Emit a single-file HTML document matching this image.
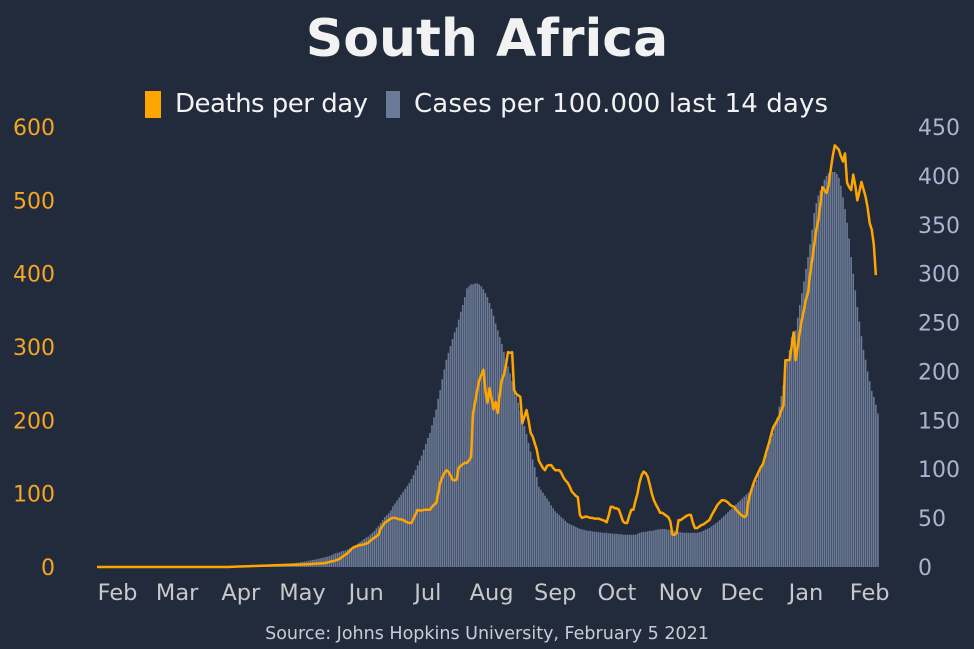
<!DOCTYPE html>
<html><head><meta charset="utf-8"><style>
html,body{margin:0;padding:0;background:#222b3c;}
svg{display:block;font-family:"Liberation Sans","DejaVu Sans",sans-serif;}
</style></head><body>
<svg id="chart" width="974" height="649" viewBox="0 0 974 649" xmlns="http://www.w3.org/2000/svg">
<rect width="974" height="649" fill="#222b3c"/>
<text x="487" y="56" text-anchor="middle" font-size="52" font-weight="bold" fill="#f2f2f2" font-family="DejaVu Sans, sans-serif">South Africa</text>
<g>
<rect x="145" y="91" width="16" height="27" fill="#ffa500"/>
<text x="175" y="112" font-size="26" fill="#f2f2f2" font-family="DejaVu Sans, sans-serif" textLength="193">Deaths per day</text>
<rect x="386" y="91" width="14" height="27" fill="#6b7a96"/>
<text x="414" y="112" font-size="26" fill="#f2f2f2" font-family="DejaVu Sans, sans-serif" textLength="414">Cases per 100.000 last 14 days</text>
</g>
<g id="bars"></g>
<path id="line" fill="none" stroke="#ffa500" stroke-width="2.5" stroke-linejoin="round"/>
<g id="axes"></g>
<text x="487" y="639" text-anchor="middle" font-size="17.5" fill="#c8ccd4" font-family="DejaVu Sans, sans-serif">Source: Johns Hopkins University, February 5 2021</text>
</svg>
<script>
const monthLabels=["Feb","Mar","Apr","May","Jun","Jul","Aug","Sep","Oct","Nov","Dec","Jan","Feb"];
const monthDayIndex=[10,39,70,100,131,161,192,223,253,284,314,345,376];
const leftTicks=[0,100,200,300,400,500,600];
const rightTicks=[0,50,100,150,200,250,300,350,400,450];
const cases=[].concat(
Array(70).fill(0),
[0.5,0.6,0.7,0.8,0.9,1,1,1.1,1.2,1.3],
[1.4,1.5,1.6,1.7,1.8,1.9,2,2.1,2.2,2.4],
[2.6,2.8,3,3.2,3.5,3.8,4,4.3,4.6,5],
[5.3,5.6,6,6.4,6.8,7.2,7.6,8,8.5,9],
[9.5,10,10.5,11,12,13,14,14.5,15,16],
[16.5,17,18,19,20,21,22.5,24,25.5,27],
[28.5,30,31,33,35,37,39.5,42,45,48],
[51,53,55,58,62,65,68,71,74,77],
[80,83,86,90,94,99,104,109,114,120],
[126,132,137,145,153,161,172,181,192,202],
[212,219,226,233,240,245,253,261,268,276],
[285,287,289,289,290,290,289,287,284,280],
[276,270,264,257,249,242,235,228,220,213],
[205,198,190,182,175,168,160,152,144,136],
[127,118,110,102,92,82,79,76,73,70],
[67,63,60,57,55,53,51,49,47,45],
[44,43,42,41,40,39,38.5,38,37.5,37],
[37,36.5,36,36,35.5,35.5,35,35,35,34.5],
[34.5,34,34,34,33.5,33.5,33,33,33,33],
[33,33,33,34,35,35.5,36,36,36.5,37],
[37,37.5,38,38.5,38.5,39,39,38.5,38,38],
[37.5,37,36.5,36,35.5,35,35,35,35,35],
[35,35,35,35.5,36,37,38,39,40,41.5],
[43,44.5,46,48,50,52,54,56,58,60],
[62,64,66,68,70,72,74,76,78,80],
[84,89,95,100,106,112,118,124,131,137],
[145,153,164,175,186,198,210,222,235,238],
[242,255,268,280,292,305,317,330,345,362],
[372,380,385,389,396,400,403,403,404,404],
[402,398,390,378,366,352,336,317,300,283],
[266,251,236,222,212,200,190,180,174,166,157]);
const deaths=[].concat(
Array(65).fill(0),
[0.2,0.3,0.4,0.5,0.6],
[0.7,0.8,0.9,1,1.1,1.2,1.3,1.4,1.5,1.6],
[1.7,1.8,1.9,2,2.1,2.2,2.3,2.4,2.5,2.6],
[2.7,2.8,2.9,3,3,3.1,3.1,3.2,3.2,3.3],
[3.4,3.5,3.6,3.8,4,4.2,4.4,4.6,4.8,5],
[5,5.5,6,7,7.5,8,9,10,11,13],
[15,17,19,22,25,27,28,29,30,30],
[31,32,33,36,38,40,42,44,52,56],
[60,62,64,66,67,67,66,65,65,64],
[62,61,60,60,66,72,78,77,77,78],
[78,78,78,82,85,87,100,115,122,128],
[132,130,125,119,118,119,135,138,140,142],
[142,145,150,210,225,241,255,262,269,240],
[224,244,230,215,225,210,235,255,262,275],
[293,292,293,241,236,234,232,196,205,214],
[200,183,178,169,160,145,140,135,132,138],
[139,139,135,132,132,132,128,122,118,115],
[110,103,100,97,95,71,67,68,69,68],
[67,67,66,66,66,65,64,63,61,70],
[82,82,80,80,78,70,62,60,60,70],
[78,78,90,100,115,125,130,128,123,112],
[100,91,85,80,74,74,72,70,68,62],
[44,44,46,64,64,66,68,70,71,71],
[60,53,53,55,57,58,60,62,64,70],
[75,80,85,88,91,91,90,88,85,83],
[82,78,75,72,70,68,70,90,101,110],
[118,124,130,136,140,150,160,169,180,190],
[195,200,205,214,220,282,282,282,300,320],
[282,300,320,337,350,365,374,400,419,440],
[460,473,495,518,514,510,520,541,560,575],
[572,569,560,553,564,524,518,514,535,520],
[500,512,525,515,505,490,469,460,440,398]);

const NS="http://www.w3.org/2000/svg";
const x0=97, dx=2.055, yBase=567, yTop=127;
const xAt=i=>x0+i*dx;
const yLeft=v=>yBase-(v/600)*(yBase-yTop);
const yRight=v=>yBase-(v/450)*(yBase-yTop);

const bars=document.getElementById('bars');
cases.forEach((v,i)=>{
  if(v<=0) return;
  const r=document.createElementNS(NS,'rect');
  r.setAttribute('x',(xAt(i)-0.8).toFixed(2));
  r.setAttribute('y',yRight(v).toFixed(2));
  r.setAttribute('width',1.6);
  r.setAttribute('height',(yBase-yRight(v)).toFixed(2));
  r.setAttribute('fill','#6b7a96');
  
  
  bars.appendChild(r);
});
let d='';
deaths.forEach((v,i)=>{d+=(i?'L':'M')+xAt(i).toFixed(2)+','+yLeft(v).toFixed(2);});
document.getElementById('line').setAttribute('d',d);

const axes=document.getElementById('axes');
function txt(x,y,s,anchor,fill,size,name){
  const t=document.createElementNS(NS,'text');
  t.setAttribute('x',x);t.setAttribute('y',y);
  t.setAttribute('text-anchor',anchor);t.setAttribute('fill',fill);
  t.setAttribute('font-size',size);
  t.setAttribute('font-family','DejaVu Sans, sans-serif');
  t.textContent=s;
  
  
  axes.appendChild(t);
}
leftTicks.forEach(v=>txt(55,yLeft(v)+8,String(v),'end','#f5a623',22,'left-tick-label'));
rightTicks.forEach(v=>txt(918,yRight(v)+8,String(v),'start','#a9b6d0',22,'right-tick-label'));
monthLabels.forEach((m,k)=>txt(xAt(monthDayIndex[k]),600,m,'middle','#c8c8c8',22.5,'x-tick-label'));
</script>
</body></html>
